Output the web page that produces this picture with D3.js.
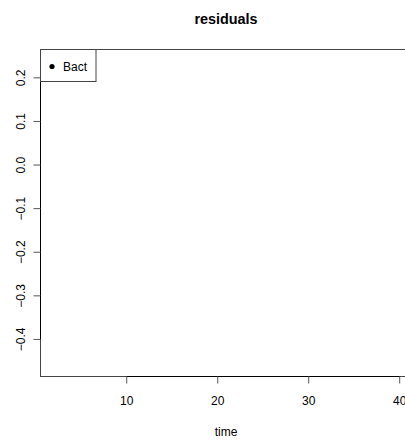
<!DOCTYPE html>
<html>
<head>
<meta charset="utf-8">
<script src="https://cdn.jsdelivr.net/npm/d3@7"></script>
<style>
  body { margin: 0; background: #fff; }
  text { font-family: "Liberation Sans", Arial, sans-serif; fill: #000; }
</style>
</head>
<body>
<svg id="chart" width="405" height="441"></svg>
<script>
// residuals are all missing in the source plot, so nothing gets drawn
var TIME = [];
var BACT = [];
var X_TICKS = [10, 20, 30, 40];
var Y_TICKS = [-0.4, -0.3, -0.2, -0.1, 0.0, 0.1, 0.2];
var LEGEND = ["Bact"];

document.addEventListener("DOMContentLoaded", function() {
  drawPlot();
})

function drawPlot(){
  const svg = d3.select("#chart");
  const left = 40, right = 412, top = 49.5, bottom = 376.5;

  const x = d3.scaleLinear().domain([0.47, 41.35]).range([left, right]);
  const y = d3.scaleLinear().domain([-0.485, 0.265]).range([bottom, top]);

  // plot box (right side falls off the page)
  svg.append("rect")
    .attr("x", left + 0.5).attr("y", top)
    .attr("width", right - left).attr("height", bottom - top)
    .attr("fill", "none")
    .attr("stroke", "#444");

  // x axis
  const xa = svg.append("g").attr("transform", "translate(0," + bottom + ")");
  xa.append("line")
    .attr("x1", x(X_TICKS[0])).attr("x2", x(X_TICKS[X_TICKS.length - 1]))
    .attr("stroke", "#000");
  xa.selectAll(".xt").data(X_TICKS).enter().append("line")
    .attr("x1", (d) => x(d)).attr("x2", (d) => x(d))
    .attr("y1", 0).attr("y2", 7)
    .attr("stroke", "#555");
  xa.selectAll(".xl").data(X_TICKS).enter().append("text")
    .attr("x", (d) => x(d)).attr("y", 28.5)
    .attr("text-anchor", "middle")
    .attr("font-size", "12px")
    .text((d) => d);

  // y axis
  const ya = svg.append("g").attr("transform", "translate(" + (left + 0.5) + ",0)");
  ya.append("line")
    .attr("y1", y(Y_TICKS[0])).attr("y2", y(Y_TICKS[Y_TICKS.length - 1]))
    .attr("stroke", "#000");
  ya.selectAll(".yt").data(Y_TICKS).enter().append("line")
    .attr("x1", -7).attr("x2", 0)
    .attr("y1", (d) => y(d)).attr("y2", (d) => y(d))
    .attr("stroke", "#555");
  ya.selectAll(".yl").data(Y_TICKS).enter().append("text")
    .attr("transform", (d) => "translate(-16," + y(d) + ") rotate(-90)")
    .attr("text-anchor", "middle")
    .attr("font-size", "12px")
    .text((d) => d3.format(".1f")(d).replace("-", "\u2212"));

  // data (empty)
  svg.selectAll(".pt").data(BACT).enter().append("circle")
    .attr("cx", (d, i) => x(TIME[i])).attr("cy", (d) => y(d))
    .attr("r", 2.5).attr("fill", "#000");

  // legend
  const lg = svg.append("g");
  lg.append("rect")
    .attr("x", left + 0.5).attr("y", top)
    .attr("width", 55.5).attr("height", 32)
    .attr("fill", "#fff").attr("stroke", "#444");
  lg.selectAll(".lt").data(LEGEND).enter().append("text")
    .attr("x", 63).attr("y", 71)
    .attr("font-size", "12px")
    .text((d) => d);
  lg.selectAll(".lp").data(LEGEND).enter().append("circle")
    .attr("cx", 52).attr("cy", 66.5)
    .attr("r", 2.6).attr("fill", "#000");

  // titles
  svg.append("text")
    .attr("x", 226).attr("y", 24)
    .attr("text-anchor", "middle")
    .attr("font-size", "14.4px").attr("font-weight", "bold")
    .text("residuals");
  svg.append("text")
    .attr("x", 226).attr("y", 436)
    .attr("text-anchor", "middle")
    .attr("font-size", "12px")
    .text("time");
}
</script>
</body>
</html>
